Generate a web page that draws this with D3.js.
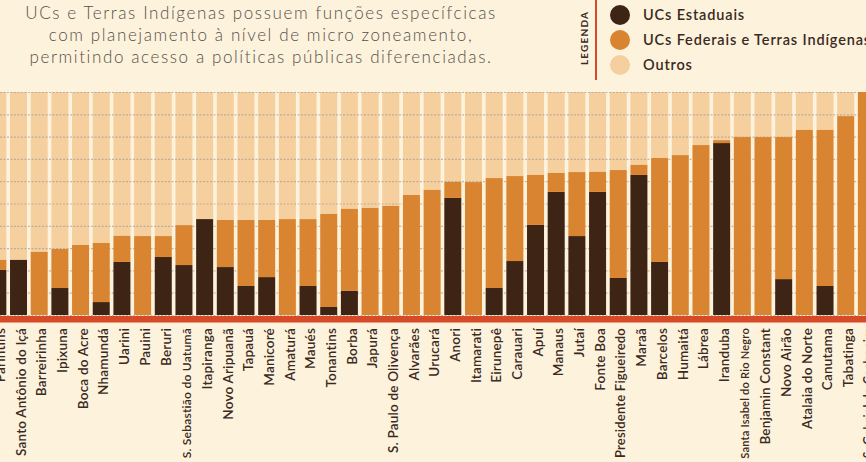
<!DOCTYPE html>
<html>
<head>
<meta charset="utf-8">
<script src="https://cdn.jsdelivr.net/npm/d3@7"></script>
<style>
  body { margin: 0; background: #fdf2dc; overflow: hidden; }
  svg { display: block; }
</style>
</head>
<body>
<div id="chart"></div>
<script>
// Municipalities, left to right
var municipios = ["Parintins", "Santo Antônio do Içá", "Barreirinha", "Ipixuna", "Boca do Acre",
    "Nhamundá", "Uarini", "Pauini", "Beruri", "S. Sebastião do Uatumã", "Itapiranga",
    "Novo Aripuanã", "Tapauá", "Manicoré", "Amaturá", "Maués", "Tonantins", "Borba", "Japurá",
    "S. Paulo de Olivença", "Alvarães", "Urucará", "Anori", "Itamarati", "Eirunepê", "Carauari",
    "Apuí", "Manaus", "Jutaí", "Fonte Boa", "Presidente Figueiredo", "Maraã", "Barcelos",
    "Humaitá", "Lábrea", "Iranduba", "Santa Isabel do Rio Negro", "Benjamin Constant",
    "Novo Airão", "Atalaia do Norte", "Canutama", "Tabatinga", "S. Gabriel da Cachoeira"];

// % of the territory
var ucsEstaduais = [20.2, 24.7, 0, 12.1, 0, 5.8, 23.8, 0, 26.0, 22.4, 43.0, 21.5, 13.0, 17.0, 0,
    13.0, 3.6, 10.8, 0, 0, 0, 0, 52.5, 0, 12.1, 24.2, 40.4, 55.2, 35.4, 55.2, 16.6, 62.8, 23.8,
    0, 0, 77.1, 0, 0, 16.1, 0, 13.0, 0, 0];
var ucsFederais = [4.5, 0, 28.3, 17.5, 31.4, 26.5, 11.7, 35.4, 9.4, 17.9, 0, 21.1, 29.6, 25.6, 43.0,
    30.0, 41.7, 36.8, 48.0, 48.9, 53.8, 56.1, 7.2, 59.6, 49.3, 38.1, 22.4, 8.5, 28.7, 9.0, 48.4,
    4.5, 46.6, 71.7, 76.2, 1.3, 79.8, 79.8, 63.7, 83.0, 70.0, 89.2, 100];

var legendaLabels = ["UCs Estaduais", "UCs Federais e Terras Indígenas", "Outros"];
var tituloLinhas = ["UCs e Terras Indígenas possuem funções específcicas",
    "com planejamento à nível de micro zoneamento,",
    "permitindo acesso a políticas públicas diferenciadas."];

var yTicks = [0, 10, 20, 30, 40, 50, 60, 70, 80, 90, 100];

var cores = ["#3d2415", "#d98431", "#f5cf9e"];

var data = municipios.map(function (m, i) {
    return {
        nome: m,
        estaduais: ucsEstaduais[i],
        federais: ucsFederais[i],
        outros: Math.max(0, 100 - ucsEstaduais[i] - ucsFederais[i])
    };
});

var width = 866, height = 462;

var svg = d3.select("#chart").append("svg")
    .attr("width", width)
    .attr("height", height);

var x = d3.scaleBand()
    .domain(municipios)
    .range([-12.5, -12.5 + municipios.length * 20.68])
    .paddingInner(0.178)
    .paddingOuter(0.089);

var y = d3.scaleLinear()
    .domain([0, 100])
    .range([315, 92]);

var stack = d3.stack().keys(["estaduais", "federais", "outros"]);
var series = stack(data);

// "Outros" first, so the grid can sit on top of it
var gOutros = svg.append("g");
gOutros.selectAll("rect")
    .data(series[2])
    .enter().append("rect")
    .attr("x", function (d) { return x(d.data.nome); })
    .attr("y", function (d) { return y(d[1]); })
    .attr("width", x.bandwidth())
    .attr("height", function (d) { return y(d[0]) - y(d[1]); })
    .attr("fill", cores[2]);

// dotted grid
var grid = svg.append("g")
    .call(d3.axisLeft(y).tickValues(yTicks).tickSize(-width).tickFormat(""));
grid.select(".domain").remove();
grid.selectAll("line")
    .attr("stroke", "#a89f92")
    .attr("stroke-opacity", 0.7)
    .attr("stroke-width", 1.2)
    .attr("stroke-dasharray", "2,1.5");

var gBars = svg.append("g");
gBars.selectAll("g")
    .data(series.slice(0, 2))
    .enter().append("g")
    .attr("fill", function (d, i) { return cores[i]; })
    .selectAll("rect")
    .data(function (d) { return d; })
    .enter().append("rect")
    .attr("x", function (d) { return x(d.data.nome); })
    .attr("y", function (d) { return y(d[1]); })
    .attr("width", x.bandwidth())
    .attr("height", function (d) { return y(d[0]) - y(d[1]); });

// red base line
svg.append("rect")
    .attr("x", 0)
    .attr("y", 316)
    .attr("width", width)
    .attr("height", 6.5)
    .attr("fill", "#d64a28");

// municipality labels
var labels = svg.append("g")
    .selectAll("text")
    .data(municipios)
    .enter().append("text")
    .attr("transform", function (d) {
        return "translate(" + (x(d) + x.bandwidth() / 2 + 2.5) + ",328) rotate(-90)";
    })
    .attr("text-anchor", "end")
    .attr("dy", "0.35em")
    .style("font-family", "Lato, sans-serif")
    .style("font-size", "13.5px")
    .style("font-weight", "600")
    .style("letter-spacing", "0.2px")
    .attr("fill", "#3a2a1f")
    .text(function (d) { return d; });

labels.each(function () {
    var len = this.getComputedTextLength();
    if (len > 130) {
        d3.select(this).style("font-size", (13.5 * 130 / len) + "px");
    }
});

// title
svg.append("g")
    .selectAll("text")
    .data(tituloLinhas)
    .enter().append("text")
    .attr("x", 261)
    .attr("y", function (d, i) { return 19 + i * 22; })
    .attr("text-anchor", "middle")
    .style("font-family", "Lato, sans-serif")
    .style("font-size", "17px")
    .style("font-weight", "300")
    .style("letter-spacing", "1.6px")
    .attr("fill", "#555049")
    .text(function (d) { return d; });

// legend
svg.append("line")
    .attr("x1", 596).attr("x2", 596)
    .attr("y1", 0).attr("y2", 80)
    .attr("stroke", "#d64a28")
    .attr("stroke-width", 2);

svg.append("text")
    .attr("transform", "translate(584,38) rotate(-90)")
    .attr("text-anchor", "middle")
    .attr("dy", "0.35em")
    .style("font-family", "Lato, sans-serif")
    .style("font-size", "10px")
    .style("font-weight", "700")
    .style("letter-spacing", "1.2px")
    .attr("fill", "#3a2a1f")
    .text("LEGENDA");

var leg = svg.append("g")
    .selectAll("g")
    .data(legendaLabels)
    .enter().append("g")
    .attr("transform", function (d, i) { return "translate(620," + (15 + i * 25) + ")"; });

leg.append("circle")
    .attr("r", 10)
    .attr("fill", function (d, i) { return cores[i]; });

leg.append("text")
    .attr("x", 23)
    .attr("dy", "0.35em")
    .style("font-family", "Lato, sans-serif")
    .style("font-size", "14.5px")
    .style("font-weight", "600")
    .style("letter-spacing", "0.85px")
    .attr("fill", "#3a2a1f")
    .text(function (d) { return d; });
</script>
</body>
</html>
